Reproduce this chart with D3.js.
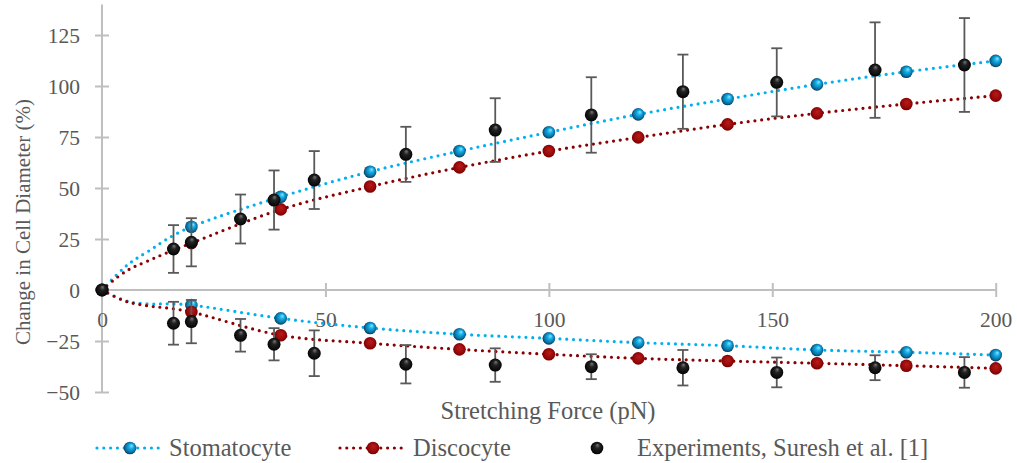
<!DOCTYPE html>
<html>
<head>
<meta charset="utf-8">
<script src="https://cdn.jsdelivr.net/npm/d3@7"></script>
<style>
  html, body { margin: 0; padding: 0; background: #fff; }
  svg { display: block; }
</style>
</head>
<body>
<svg id="chart" width="1017" height="463"></svg>
<script>
// ---------- data ----------
// simulation forces (pN); markers are shown at markerForce only
const simForce = [0, 5, 10, 20, 40, 60, 80, 100, 120, 140, 160, 180, 200];
const markerForce = [20, 40, 60, 80, 100, 120, 140, 160, 180, 200];
const stomatoAxial = [0, 11, 18.5, 31, 45.7, 58, 68.1, 77.3, 86.1, 93.6, 100.8, 107, 112.3];
const stomatoTrans = [0, -5, -6.8, -7.4, -13.9, -18.6, -21.7, -23.7, -25.8, -27.3, -29.4, -30.5, -31.9];
const discoAxial = [0, 8.7, 14, 23, 39.5, 50.7, 60.1, 68.1, 74.8, 81.2, 86.6, 91.2, 95.3];
const discoTrans = [0, -5.3, -7.7, -10.8, -22.2, -26.1, -29.1, -31.5, -33.5, -34.8, -35.9, -37.1, -38.4];

const expForce = [0, 16, 20, 31, 38.5, 47.5, 68, 88, 109.5, 130, 151, 173, 193];
const expAxial = [0, 20.1, 23.4, 34.8, 44.1, 53.9, 66.5, 78.4, 85.8, 97.2, 101.8, 107.8, 110.3];
const expAxialErr = [0, 11.7, 11.8, 12, 14.5, 14.2, 13.5, 15.6, 18.5, 18.2, 16.7, 23.4, 23];
const expTrans = [0, -16.3, -15.5, -22.2, -26.6, -31, -36.4, -36.8, -37.6, -38.1, -40.4, -38.1, -40.4];
const expTransErr = [0, 10.5, 10.6, 8, 7.9, 11.2, 9.4, 8.2, 6.1, 8.7, 7.3, 6.1, 7.5];

const xTicks = [0, 50, 100, 150, 200];
const yTicks = [-50, -25, 0, 25, 50, 75, 100, 125];
const xDomain = [0, 200];
const yDomain = [-50, 140];

const xTitle = "Stretching Force (pN)";
const yTitle = "Change in Cell Diameter (%)";
const legendLabels = ["Stomatocyte", "Discocyte", "Experiments, Suresh et al. [1]"];

// ---------- setup ----------
const FONT = '"Liberation Serif", "Times New Roman", serif';
const svg = d3.select("#chart");
const x = d3.scaleLinear().domain(xDomain).range([102, 995.7]);
const y = d3.scaleLinear().domain(yDomain).range([392, 4.4]);

const axisColor = "#BFBFBF";
const textColor = "#595959";
const blue = "#00B0F0";
const red = "#8B0000";

const defs = svg.append("defs");
function radial(id, stops, fx, fy) {
  const g = defs.append("radialGradient").attr("id", id)
    .attr("cx", "50%").attr("cy", "50%").attr("r", "55%")
    .attr("fx", fx).attr("fy", fy);
  stops.forEach(s => g.append("stop").attr("offset", s[0]).attr("stop-color", s[1]));
}
radial("gBlue", [["0%", "#8EE6FF"], ["35%", "#12AEE8"], ["75%", "#0A6E9E"], ["100%", "#03263A"]], "65%", "30%");
radial("gRed", [["0%", "#B81C1C"], ["60%", "#9C0A0A"], ["100%", "#700000"]], "55%", "35%");
radial("gBlack", [["0%", "#7A7A7A"], ["35%", "#222"], ["100%", "#000"]], "55%", "25%");

// ---------- axes ----------
const yAxis = d3.axisLeft(y).tickValues(yTicks).tickSizeInner(7).tickSizeOuter(0).tickPadding(15).tickFormat(d3.format("d"));
const gy = svg.append("g").attr("transform", `translate(${x(0)},0)`).call(yAxis).attr("font-family", FONT);
gy.select(".domain").remove();
gy.selectAll(".tick line").attr("x1", -7).attr("x2", 7).attr("stroke", axisColor).attr("stroke-width", 2);
gy.selectAll(".tick text").attr("font-size", 21.5).attr("fill", textColor)
  .style("font-family", FONT).attr("dy", "0.34em");
gy.append("line").attr("x1", 0).attr("x2", 0).attr("y1", y(yDomain[0])).attr("y2", y(yDomain[1]))
  .attr("stroke", axisColor).attr("stroke-width", 2);

const xAxis = d3.axisBottom(x).tickValues(xTicks).tickSizeInner(7).tickSizeOuter(0).tickPadding(0).tickFormat(d3.format("d"));
const gx = svg.append("g").attr("transform", `translate(0,${y(0)})`).call(xAxis).attr("font-family", FONT);
gx.select(".domain").remove();
gx.selectAll(".tick line").attr("y1", -7).attr("y2", 7).attr("stroke", axisColor).attr("stroke-width", 2);
gx.selectAll(".tick text").attr("font-size", 21.5).attr("fill", textColor)
  .style("font-family", FONT).attr("y", 30).attr("dy", "0.34em");
gx.append("line").attr("x1", x(xDomain[0])).attr("x2", x(xDomain[1])).attr("y1", 0).attr("y2", 0)
  .attr("stroke", axisColor).attr("stroke-width", 2);

// titles
svg.append("text").attr("x", 548).attr("y", 411).attr("dy", "0.34em").style("font-family", FONT).attr("fill", textColor)
  .attr("text-anchor", "middle").attr("font-size", 24.5).text(xTitle);
svg.append("text").attr("transform", "translate(23,222) rotate(-90)").attr("dy", "0.34em").style("font-family", FONT).attr("fill", textColor)
  .attr("text-anchor", "middle").attr("font-size", 21).text(yTitle);

// ---------- series ----------
const line = d3.line().x(d => x(d[0])).y(d => y(d[1])).curve(d3.curveCardinal.tension(0));
const dotted = (sel, color) => sel.attr("fill", "none").attr("stroke", color).attr("stroke-width", 3.2)
  .attr("stroke-linecap", "round").attr("stroke-dasharray", "0 6.8");

const series = [
  { vals: stomatoAxial, color: blue, grad: "url(#gBlue)" },
  { vals: stomatoTrans, color: blue, grad: "url(#gBlue)" },
  { vals: discoAxial, color: red, grad: "url(#gRed)" },
  { vals: discoTrans, color: red, grad: "url(#gRed)" }
];
series.forEach(s => {
  const pts = simForce.map((f, i) => [f, s.vals[i]]);
  svg.append("path").datum(pts).attr("d", line).call(dotted, s.color);
});
series.forEach(s => {
  const pts = simForce.map((f, i) => [f, s.vals[i]]).filter(d => markerForce.includes(d[0]));
  svg.append("g").selectAll("circle").data(pts).join("circle")
    .attr("cx", d => x(d[0])).attr("cy", d => y(d[1])).attr("r", 6.3).attr("fill", s.grad);
});

// experiments with error bars
const expSets = [
  expForce.map((f, i) => ({ f, v: expAxial[i], e: expAxialErr[i] })),
  expForce.map((f, i) => ({ f, v: expTrans[i], e: expTransErr[i] }))
];
expSets.forEach(set => {
  const g = svg.append("g");
  const eb = g.selectAll("g.eb").data(set.filter(d => d.e > 0)).join("g").attr("class", "eb")
    .attr("stroke", "#595959").attr("stroke-width", 1.8);
  eb.append("line").attr("x1", d => x(d.f)).attr("x2", d => x(d.f)).attr("y1", d => y(d.v + d.e)).attr("y2", d => y(d.v - d.e));
  eb.append("line").attr("x1", d => x(d.f) - 5.5).attr("x2", d => x(d.f) + 5.5).attr("y1", d => y(d.v + d.e)).attr("y2", d => y(d.v + d.e));
  eb.append("line").attr("x1", d => x(d.f) - 5.5).attr("x2", d => x(d.f) + 5.5).attr("y1", d => y(d.v - d.e)).attr("y2", d => y(d.v - d.e));
  g.selectAll("circle").data(set).join("circle")
    .attr("cx", d => x(d.f)).attr("cy", d => y(d.v)).attr("r", 6.5).attr("fill", "url(#gBlack)");
});

// ---------- legend ----------
const legY = 448;
const leg = svg.append("g");
const legItems = [
  { x0: 97, x1: 162, mx: 130, tx: 169, color: blue, grad: "url(#gBlue)", line: true, label: legendLabels[0] },
  { x0: 340, x1: 405, mx: 373, tx: 413, color: red, grad: "url(#gRed)", line: true, label: legendLabels[1] },
  { x0: 0, x1: 0, mx: 597, tx: 637, color: "#000", grad: "url(#gBlack)", line: false, label: legendLabels[2] }
];
legItems.forEach(it => {
  if (it.line) {
    leg.append("path").attr("d", `M${it.x0},${legY}H${it.x1}`).call(dotted, it.color);
  }
  leg.append("circle").attr("cx", it.mx).attr("cy", legY).attr("r", 6.3).attr("fill", it.grad);
  leg.append("text").attr("x", it.tx).attr("y", legY).attr("dy", "0.34em").style("font-family", FONT).attr("fill", textColor)
    .attr("font-size", 24.5).text(it.label);
});
</script>
</body>
</html>
